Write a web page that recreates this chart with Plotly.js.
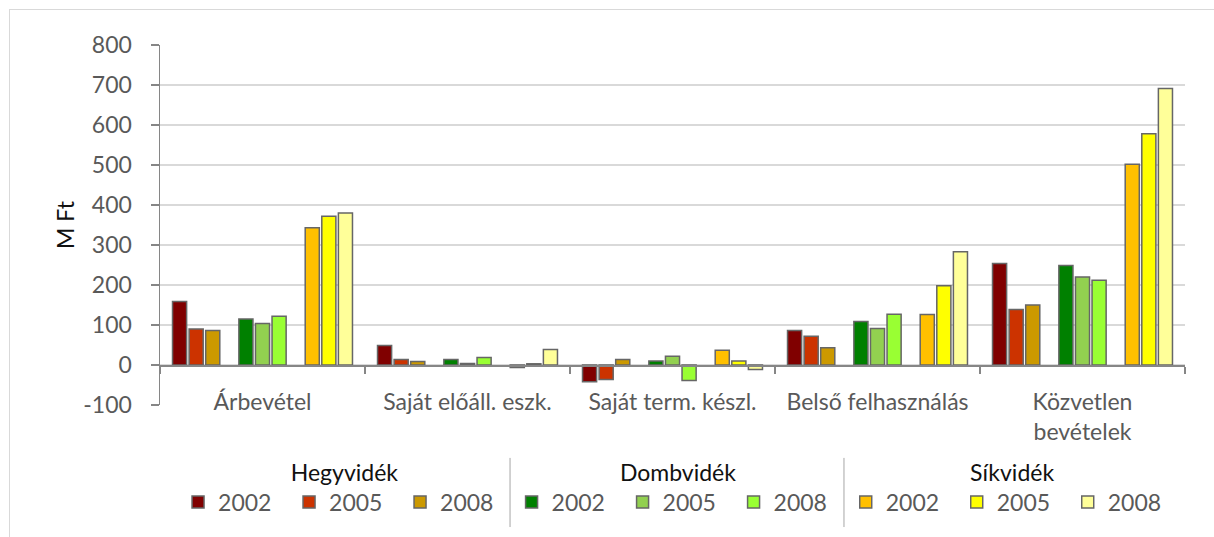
<!DOCTYPE html>
<html>
<head>
<meta charset="utf-8">
<script src="https://cdn.plot.ly/plotly-3.0.1.min.js"></script>
<style>
  body { margin: 0; background: #fff; }
  #wrap { position: relative; width: 1214px; height: 537px; overflow: hidden; }
  #chart { width: 1214px; height: 537px; }
  #frame { position: absolute; left: 9px; top: 9px; width: 1300px; height: 600px;
           border: 1px solid #d9d9d9; pointer-events: none; box-sizing: border-box; }
</style>
</head>
<body>
<div id="wrap"><div id="chart"></div><div id="frame"></div></div>
<script>
// Categories
const categories = ["Árbevétel", "Saját előáll. eszk.", "Saját term. készl.", "Belső felhasználás", "Közvetlen<br>bevételek"];
const years = ["2002", "2005", "2008"];
const regions = ["Hegyvidék", "Dombvidék", "Síkvidék"];

// Y-axis ticks
const yTickVals = [-100, 0, 100, 200, 300, 400, 500, 600, 700, 800];
const yTickText = ["-100", "0", "100", "200", "300", "400", "500", "600", "700", "800"];

// Values (M Ft)
const hegy2002 = [159, 49, -42, 86, 254];
const hegy2005 = [90, 14, -36, 72, 139];
const hegy2008 = [86, 9, 14, 43, 150];
const domb2002 = [115, 14, 10, 109, 249];
const domb2005 = [104, 4, 22, 91, 220];
const domb2008 = [122, 19, -39, 127, 212];
const sik2002 = [343, -6, 37, 126, 502];
const sik2005 = [372, 3, 10, 198, 578];
const sik2008 = [380, 39, -11, 283, 691];

// Colours
const hegyColors = ["#800000", "#cc3300", "#cc9900"];
const dombColors = ["#008000", "#92d050", "#99ff33"];
const sikColors = ["#ffc000", "#ffff00", "#ffff99"];

const seriesByRegion = [
  [hegy2002, hegy2005, hegy2008],
  [domb2002, domb2005, domb2008],
  [sik2002, sik2005, sik2008]
];
const colorsByRegion = [hegyColors, dombColors, sikColors];
const legendIds = ["legend", "legend2", "legend3"];

const FONT = "Lato, 'Open Sans', sans-serif";
const traces = [];
seriesByRegion.forEach((series, r) => {
  if (r > 0) {
    // empty spacer slot between region groups
    traces.push({type: "bar", x: categories, y: categories.map(() => null),
                 showlegend: false, hoverinfo: "skip", marker: {color: "rgba(0,0,0,0)"}});
  }
  series.forEach((vals, i) => {
    traces.push({
      type: "bar",
      name: years[i],
      x: categories,
      y: vals,
      legend: legendIds[r],
      marker: {color: colorsByRegion[r][i], line: {color: "#666666", width: 1.5}}
    });
  });
});

const legendBase = {
  orientation: "h",
  yanchor: "top",
  y: -0.127,
  xanchor: "left",
  bgcolor: "rgba(0,0,0,0)",
  font: {family: FONT, size: 23, color: "#595959", weight: "normal"},
  entrywidth: 66,
  entrywidthmode: "pixels",
  traceorder: "normal",
};
function mkLegend(r, x) {
  return Object.assign({}, legendBase, {
    x: x,
    title: {text: regions[r], side: "top center",
            font: {family: FONT, size: 23, color: "#111111", weight: "normal"}}
  });
}

const layout = {
  width: 1214, height: 537,
  margin: {l: 160, r: 29, t: 45, b: 132},
  paper_bgcolor: "#ffffff",
  plot_bgcolor: "#ffffff",
  barmode: "group",
  bargap: 0.11,
  bargroupgap: 0.15,
  font: {family: FONT, size: 23, color: "#595959"},
  xaxis: {
    type: "category",
    anchor: "free",
    position: 1 / 9,
    showline: true, linecolor: "#868686", linewidth: 1.5,
    ticks: "outside", tickson: "boundaries", ticklen: 7, tickcolor: "#868686", tickwidth: 1.5,
    showgrid: false,
    tickfont: {family: FONT, size: 23, color: "#595959"},
    ticklabelstandoff: 16,
    fixedrange: true
  },
  yaxis: {
    range: [-100, 800],
    tickmode: "array",
    tickvals: yTickVals,
    ticktext: yTickText,
    showline: true, linecolor: "#868686", linewidth: 1.5,
    ticks: "outside", ticklen: 8, tickcolor: "#868686", tickwidth: 1.5,
    gridcolor: "#d9d9d9", gridwidth: 1.5,
    zeroline: false,
    tickfont: {family: FONT, size: 23, color: "#595959"},
    ticklabelstandoff: 14,
    title: {text: "M Ft", font: {family: FONT, size: 23, color: "#111111", weight: "normal"}, standoff: 2},
    fixedrange: true
  },
  legend: mkLegend(0, 0.0176),
  legend2: mkLegend(1, 0.343),
  legend3: mkLegend(2, 0.669),
  shapes: [
    {type: "line", xref: "paper", yref: "paper", x0: 0.3415, x1: 0.3415, y0: -0.147, y1: -0.339,
     line: {color: "#a6a6a6", width: 1}},
    {type: "line", xref: "paper", yref: "paper", x0: 0.6673, x1: 0.6673, y0: -0.147, y1: -0.339,
     line: {color: "#a6a6a6", width: 1}}
  ]
};

Plotly.newPlot("chart", traces, layout, {displayModeBar: false, staticPlot: true});
</script>
</body>
</html>
